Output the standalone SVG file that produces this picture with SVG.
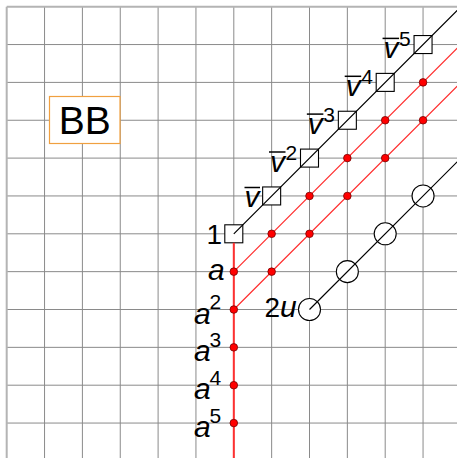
<svg xmlns="http://www.w3.org/2000/svg" width="457" height="458" viewBox="0 0 457 458">
<style>
.grid{stroke:#8a8a8a;stroke-width:1;fill:none}
.edge{stroke:#b4b4b4;stroke-width:2;fill:none}
.red{stroke:#ff3030;stroke-width:1.2;fill:none}
.redv{stroke:#ff3030;stroke-width:2;fill:none}
.blk{stroke:#000;stroke-width:1.2;fill:none}
.sq{fill:#fff;stroke:#000;stroke-width:1.1}
.ci{fill:#fff;stroke:#000;stroke-width:1.1}
.dot{fill:#ff0000;stroke:#700;stroke-width:0.8}
.lbl{font-family:"Liberation Sans",Arial,sans-serif;fill:#000}
.it{font-style:italic;font-size:30px}
.num{font-size:28px}
.sup{font-size:21px}
.ov{stroke:#000;stroke-width:1.5}
</style>
<rect width="457" height="458" fill="#fff"/>
<g id="grid">
<path class="grid" d="M44.55 6.7V458M82.4 6.7V458M120.25 6.7V458M158.1 6.7V458M195.95 6.7V458M233.8 6.7V458M271.65 6.7V458M309.5 6.7V458M347.35 6.7V458M385.2 6.7V458M423.05 6.7V458M6.7 44.55H457M6.7 82.4H457M6.7 120.25H457M6.7 158.1H457M6.7 195.95H457M6.7 233.8H457M6.7 271.65H457M6.7 309.5H457M6.7 347.35H457M6.7 385.2H457M6.7 423.05H457"/>
<path class="edge" d="M6.7 6.7V458M6.7 6.7H457"/>
</g>
<g id="bb">
<rect x="49.5" y="96.5" width="70.5" height="47" fill="#fff" stroke="#f0a040" stroke-width="1.2"/>
<text class="lbl" x="84.7" y="134.3" font-size="39" text-anchor="middle">BB</text>
</g>
<g id="node-1">
<rect class="sq" x="224.8" y="224.8" width="18" height="18"/>
<text class="lbl num" x="206.5" y="243.5">1</text>
</g>
<g id="node-v1">
<rect class="sq" x="262.65" y="186.95" width="18" height="18"/>
<text class="lbl it" x="244.5" y="206.5">v</text>
<line class="ov" x1="244.5" y1="187.5" x2="260" y2="187.5"/>
</g>
<g id="node-v2">
<rect class="sq" x="300.5" y="149.1" width="18" height="18"/>
<text class="lbl" y="172"><tspan class="it" x="270">v</tspan><tspan class="sup" x="285.5" dy="-12.5">2</tspan></text>
<line class="ov" x1="269" y1="152" x2="285.5" y2="152"/>
</g>
<g id="node-v3">
<rect class="sq" x="338.35" y="111.25" width="18" height="18"/>
<text class="lbl" y="134.1"><tspan class="it" x="307.85">v</tspan><tspan class="sup" x="323.35" dy="-12.5">3</tspan></text>
<line class="ov" x1="306.85" y1="114.1" x2="323.35" y2="114.1"/>
</g>
<g id="node-v4">
<rect class="sq" x="376.2" y="73.4" width="18" height="18"/>
<text class="lbl" y="96.3"><tspan class="it" x="345.7">v</tspan><tspan class="sup" x="361.2" dy="-12.5">4</tspan></text>
<line class="ov" x1="344.7" y1="76.3" x2="361.2" y2="76.3"/>
</g>
<g id="node-v5">
<rect class="sq" x="414.05" y="35.55" width="18" height="18"/>
<text class="lbl" y="58.4"><tspan class="it" x="383.55">v</tspan><tspan class="sup" x="399.05" dy="-12.5">5</tspan></text>
<line class="ov" x1="382.55" y1="38.4" x2="399.05" y2="38.4"/>
</g>
<g id="node-2u">
<circle class="ci" cx="309.5" cy="309.5" r="11"/>
<text class="lbl" x="264.5" y="317"><tspan class="num">2</tspan><tspan class="it">u</tspan></text>
</g>
<g id="node-c2"><circle class="ci" cx="347.35" cy="271.65" r="11"/></g>
<g id="node-c3"><circle class="ci" cx="385.2" cy="233.8" r="11"/></g>
<g id="node-c4"><circle class="ci" cx="423.05" cy="195.95" r="11"/></g>
<g id="connectors">
<path class="redv" d="M233.8 242.8V458"/>
<path class="red" d="M233.8 271.65L460.9 44.55M233.8 309.5L460.9 82.4"/>
<path class="blk" d="M233.8 233.8L460.9 6.7M309.5 309.5L460.9 158.1"/>
</g>
<g id="node-a1">
<circle class="dot" cx="233.8" cy="271.65" r="3.8"/>
<text class="lbl it" x="208" y="280">a</text>
</g>
<g id="node-a2">
<circle class="dot" cx="233.8" cy="309.5" r="3.8"/>
<text class="lbl" y="323.5"><tspan class="it" x="194">a</tspan><tspan class="sup" x="209.5" dy="-14.5">2</tspan></text>
</g>
<g id="node-a3">
<circle class="dot" cx="233.8" cy="347.35" r="3.8"/>
<text class="lbl" y="361.35"><tspan class="it" x="194">a</tspan><tspan class="sup" x="209.5" dy="-14.5">3</tspan></text>
</g>
<g id="node-a4">
<circle class="dot" cx="233.8" cy="385.2" r="3.8"/>
<text class="lbl" y="399.2"><tspan class="it" x="194">a</tspan><tspan class="sup" x="209.5" dy="-14.5">4</tspan></text>
</g>
<g id="node-a5">
<circle class="dot" cx="233.8" cy="423.05" r="3.8"/>
<text class="lbl" y="437.05"><tspan class="it" x="194">a</tspan><tspan class="sup" x="209.5" dy="-14.5">5</tspan></text>
</g>
<g id="dots">
<circle class="dot" cx="271.65" cy="233.8" r="3.8"/>
<circle class="dot" cx="309.5" cy="195.95" r="3.8"/>
<circle class="dot" cx="347.35" cy="158.1" r="3.8"/>
<circle class="dot" cx="385.2" cy="120.25" r="3.8"/>
<circle class="dot" cx="423.05" cy="82.4" r="3.8"/>
<circle class="dot" cx="271.65" cy="271.65" r="3.8"/>
<circle class="dot" cx="309.5" cy="233.8" r="3.8"/>
<circle class="dot" cx="347.35" cy="195.95" r="3.8"/>
<circle class="dot" cx="385.2" cy="158.1" r="3.8"/>
<circle class="dot" cx="423.05" cy="120.25" r="3.8"/>
</g>
</svg>
